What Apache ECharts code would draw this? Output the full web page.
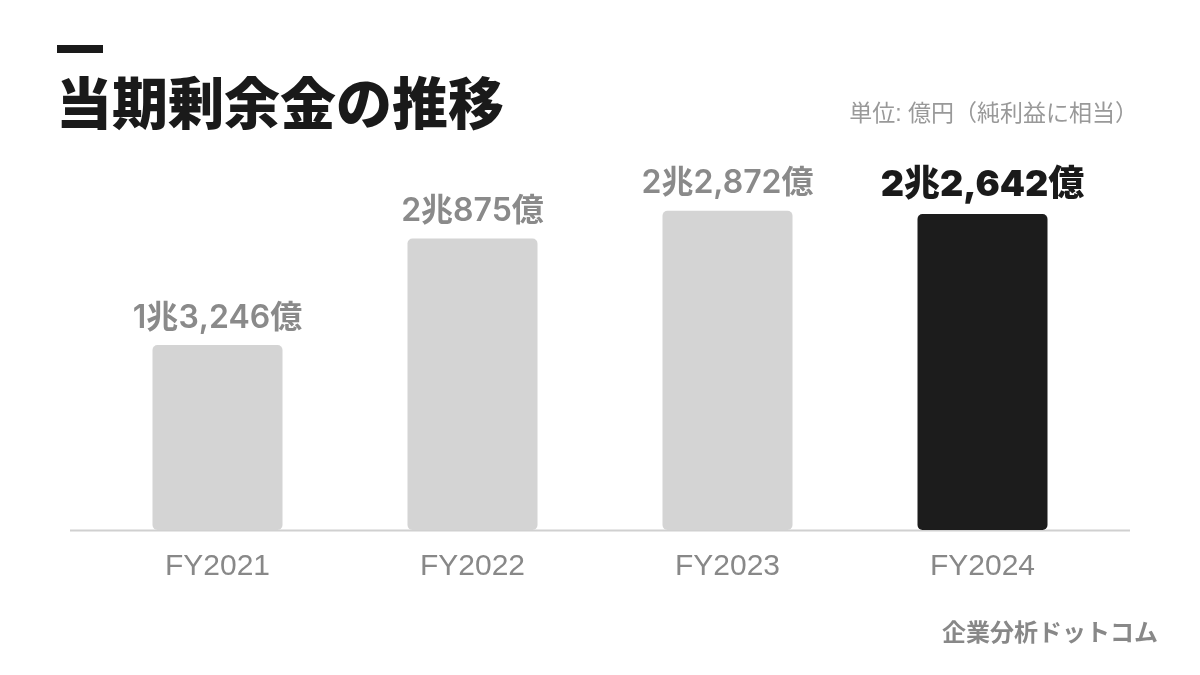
<!DOCTYPE html>
<html>
<head>
<meta charset="utf-8">
<script src="https://cdn.jsdelivr.net/npm/echarts@6/dist/echarts.min.js"></script>
<style>
  html, body { margin: 0; padding: 0; background: #fff; }
  #chart { width: 1200px; height: 675px; }
</style>
</head>
<body>
<div id="chart"></div>
<script>
const years = ['FY2021', 'FY2022', 'FY2023', 'FY2024'];
const surplus = [13246, 20875, 22872, 22642]; // 億円
const highlightIndex = 3;

const CJK = '"Noto Sans CJK JP", sans-serif';
const LATIN = '"Liberation Sans", "Noto Sans CJK JP", sans-serif';
const NUM = 'Inter, "Noto Sans CJK JP", sans-serif';

// 13246 -> "1兆3,246億"
const toJpLabel = (v) => {
  const cho = Math.floor(v / 10000);
  const oku = v % 10000;
  return (cho > 0 ? cho + '兆' : '') + oku.toLocaleString('en-US') + '億';
};

const chart = echarts.init(document.getElementById('chart'));

chart.setOption({
  backgroundColor: '#fff',
  animation: false,
  grid: { left: 90, right: 90, top: 181, bottom: 145 },
  xAxis: {
    type: 'category',
    data: years,
    axisLine: { show: false },
    axisTick: { show: false },
    axisLabel: { color: '#888', fontSize: 30, fontFamily: LATIN, margin: 22 }
  },
  yAxis: {
    type: 'value',
    min: 0,
    max: 25000,
    show: false
  },
  series: [{
    type: 'bar',
    barWidth: 130,
    z: 3,
    data: surplus.map((v, i) => ({
      value: v,
      itemStyle: { color: i === highlightIndex ? '#1c1c1c' : '#d4d4d4', borderRadius: 5 },
      label: i === highlightIndex
        ? { color: '#1a1a1a', fontSize: 36, fontWeight: 900 }
        : { color: '#8a8a8a', fontSize: 32, fontWeight: 600 }
    })),
    label: {
      show: true,
      position: 'top',
      distance: 11,
      fontFamily: NUM,
      formatter: (p) => toJpLabel(p.value)
    }
  }],
  graphic: [
    { type: 'rect', shape: { x: 57, y: 45, width: 46, height: 8 }, style: { fill: '#1a1a1a' } },
    {
      type: 'text', left: 56, top: 75,
      style: { text: '当期剰余金の推移', fill: '#1a1a1a', font: '900 56px ' + CJK }
    },
    {
      type: 'text', right: 62, top: 103,
      style: { text: '単位: 億円（純利益に相当）', fill: '#999', font: '23px ' + LATIN }
    },
    { type: 'line', z: 1, shape: { x1: 70, y1: 530.5, x2: 1130, y2: 530.5 }, style: { stroke: '#d0d0d0', lineWidth: 2 } },
    {
      type: 'text', right: 42, top: 620,
      style: { text: '企業分析ドットコム', fill: '#888', font: 'bold 24px ' + CJK }
    }
  ]
});

window.addEventListener('resize', () => chart.resize());
</script>
</body>
</html>
